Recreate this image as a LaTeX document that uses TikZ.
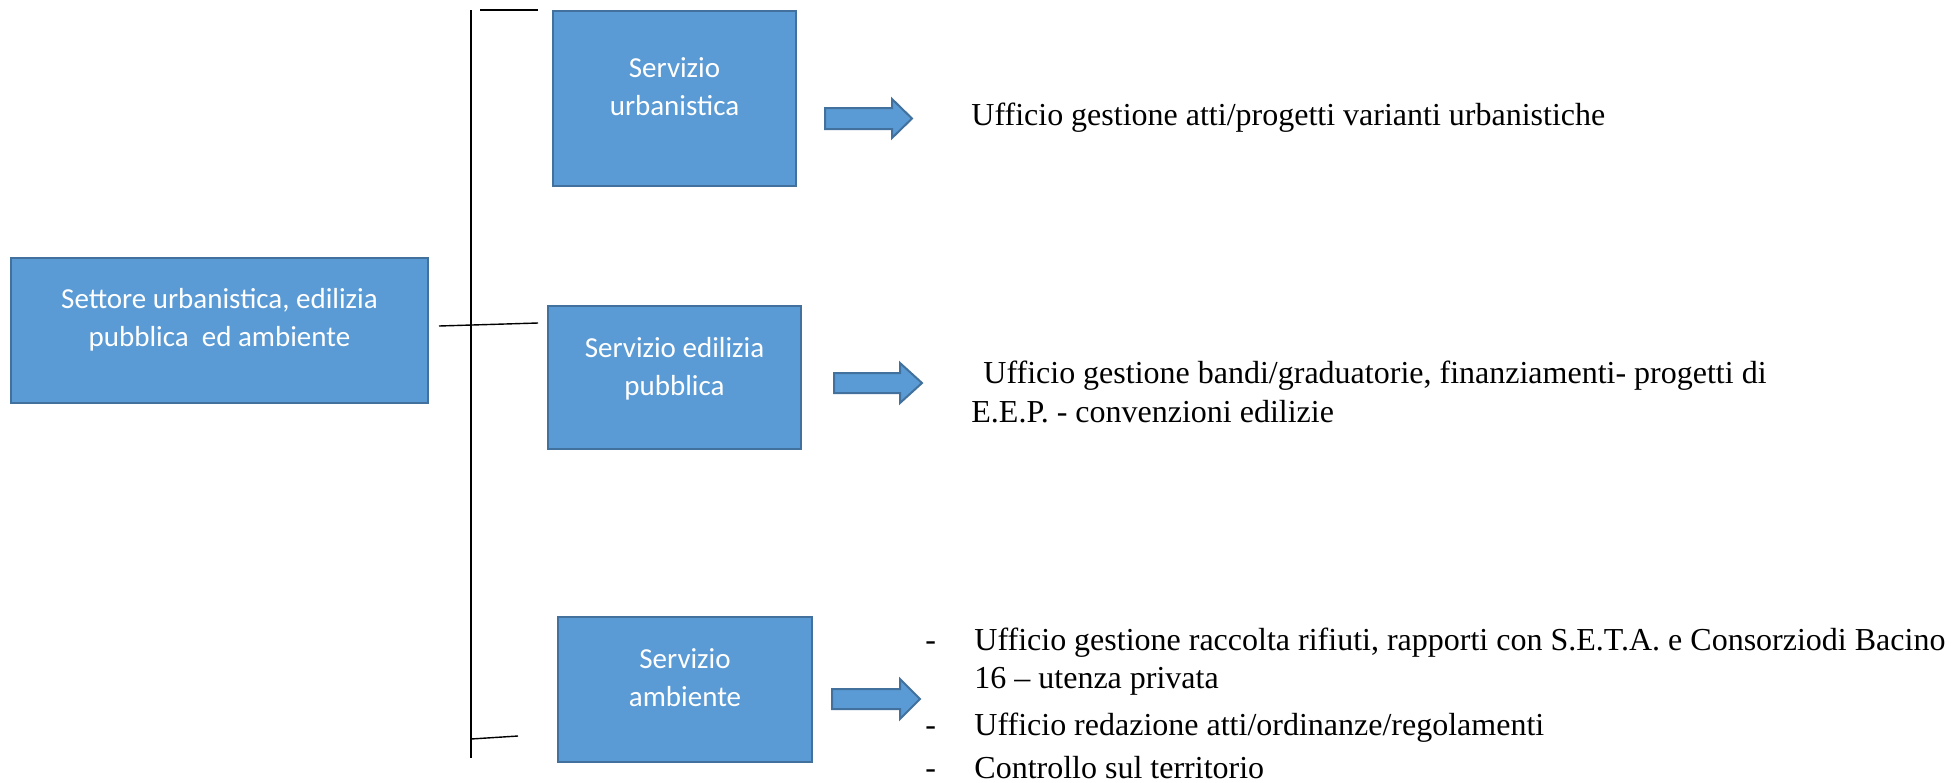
\documentclass[tikz,border=0pt]{standalone}
\usepackage{fontspec}
\setmainfont{Liberation Serif}
\newfontfamily\boxfont{Carlito}
\definecolor{boxblue}{HTML}{5B9BD5}
\definecolor{boxedge}{HTML}{41719C}
\begin{document}
\begin{tikzpicture}[x=0.5pt,y=-0.5pt,
  box/.style={draw=boxedge, fill=boxblue, line width=1pt, rectangle, inner sep=0pt},
  boxtxt/.style={text=white, inner sep=0pt, align=center, font=\boxfont\fontsize{14.5}{19}\selectfont},
  txt/.style={inner sep=0pt, font=\fontsize{16}{19.5}\selectfont},
  barrow/.style={draw=boxedge, fill=boxblue, line width=1pt, line join=miter},
  conn/.style={draw=black, line width=0.7pt}]
\useasboundingbox (0,0) rectangle (1952,782);
% boxes
\node[box, minimum width=208.5pt, minimum height=72.5pt] (settore) at (219.5,330.5) {};
\node[box, minimum width=121.5pt, minimum height=87.5pt] (urb) at (674.5,98.5) {};
\node[box, minimum width=126.5pt, minimum height=71.5pt] (edil) at (674.5,377.5) {};
\node[box, minimum width=127pt, minimum height=72.5pt] (amb) at (685,689.5) {};
% box texts (anchor = baseline of last line)
\node[boxtxt, anchor=base] (settoreT) at (219.5,346) {Settore urbanistica, edilizia\\pubblica\ \ ed ambiente};
\node[boxtxt, anchor=base] (urbT) at (674.5,115) {Servizio\\urbanistica};
\node[boxtxt, anchor=base] (edilT) at (674.5,395) {Servizio edilizia\\pubblica};
\node[boxtxt, anchor=base] (ambT) at (685,706) {Servizio\\ambiente};
% connector lines
\coordinate (vtop) at (471,10);
\coordinate (vbot) at (471,758);
\coordinate (t1a) at (480,10);
\coordinate (t1b) at (538,10);
\coordinate (m1a) at (439,326);
\coordinate (m1b) at (538,323);
\coordinate (b1a) at (471,739);
\coordinate (b1b) at (518,736);
\draw[conn, line width=0.6pt] (vtop) -- (vbot);
\draw[conn] (t1a) -- (t1b);
\draw[conn] (m1a) -- (m1b);
\draw[conn] (b1a) -- (b1b);
% block arrows
\draw[barrow] (825,108) -- (892,108) -- (892,99) -- (912,118.5) -- (892,138) -- (892,129) -- (825,129) -- cycle;
\draw[barrow] (834,373) -- (900,373) -- (900,363) -- (922,383) -- (900,403) -- (900,393) -- (834,393) -- cycle;
\draw[barrow] (832,689) -- (900,689) -- (900,679) -- (920,699) -- (900,719) -- (900,709) -- (832,709) -- cycle;
% office texts
\node[txt, anchor=base west] (u1) at (971,125) {Ufficio gestione atti/progetti varianti urbanistiche};
\node[txt, anchor=base west, align=left] (u2) at (971,422) {\hspace*{6pt}Ufficio gestione bandi/graduatorie, finanziamenti- progetti di\\E.E.P. - convenzioni edilizie};
\node[txt, anchor=base west] (d1) at (925,650) {-};
\node[txt, anchor=base west] (d2) at (925,735) {-};
\node[txt, anchor=base west] (d3) at (925,778) {-};
\node[txt, anchor=base west, align=left, font=\fontsize{16}{19}\selectfont] (u3) at (974,688) {Ufficio gestione raccolta rifiuti, rapporti con S.E.T.A. e Consorziodi Bacino\\16 – utenza privata};
\node[txt, anchor=base west] (u4) at (974,735) {Ufficio redazione atti/ordinanze/regolamenti};
\node[txt, anchor=base west] (u5) at (974,778) {Controllo sul territorio};
\end{tikzpicture}
\end{document}
